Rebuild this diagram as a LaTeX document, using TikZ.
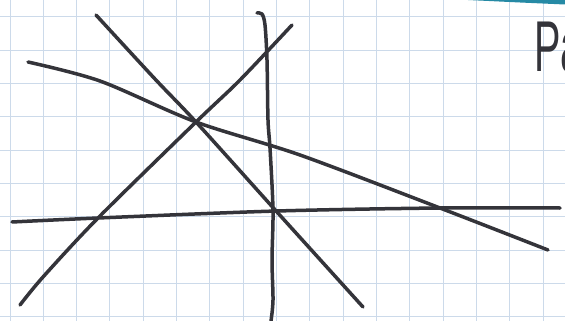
\documentclass[tikz,border=0pt]{standalone}
\usepackage{fontspec}
\newfontfamily\handfont{Liberation Sans}
\definecolor{gridblue}{RGB}{204,218,234}
\definecolor{inkgray}{RGB}{52,52,58}
\definecolor{bandteal}{RGB}{38,138,165}
\tikzset{
  gridline/.style={draw=gridblue, line width=1pt},
  pen/.style={draw=inkgray, line width=3.5pt, line cap=round, line join=round},
}
\begin{document}
\begin{tikzpicture}[x=1pt,y=-1pt]
\useasboundingbox (0,0) rectangle (565,321);
\fill[white] (0,0) rectangle (565,321);
\begin{scope}
\clip (0,0) rectangle (565,321);
% grid
\foreach \k in {0,...,16} \draw[gridline] ({10+33.33*\k},0) -- ({10+33.33*\k},321);
\foreach \k in {0,...,9} \draw[gridline] (0,{17+33.33*\k}) -- (565,{17+33.33*\k});
% teal band at top right
\fill[bandteal] (468,0) -- (565,0) -- (565,4.5) -- (520,2.5) -- cycle;
% text (cut off at the right edge, as in the sketch)
\node[font=\handfont\fontsize{72}{72}\selectfont, text=inkgray, xscale=0.55, anchor=base west, inner sep=0pt] (ptext) at (534,72) {Pa};
% line A (steep, top-left to bottom-right)
\draw[pen] plot[smooth, tension=0.5] coordinates {(96,15) (155,79) (196,122) (277,212) (363,307)};
% line B (shallow)
\draw[pen] plot[smooth, tension=0.5] coordinates {(28,62) (100,81) (196,122) (300,155) (440,208) (548,250)};
% line C (rising)
\draw[pen] plot[smooth, tension=0.5] coordinates {(20,305) (43,277) (98,218) (196,122) (240,80) (292,25)};
% line D (near vertical)
\draw[pen] plot[smooth, tension=0.5] coordinates {(257,13) (262,14) (265,25) (267,60) (268,120) (270,148) (273,210) (272,260) (273,300) (271,321)};
% line E (near horizontal)
\draw[pen] plot[smooth, tension=0.5] coordinates {(12,222) (98,218) (277,211) (440,208) (560,208)};
\end{scope}
\end{tikzpicture}
\end{document}
